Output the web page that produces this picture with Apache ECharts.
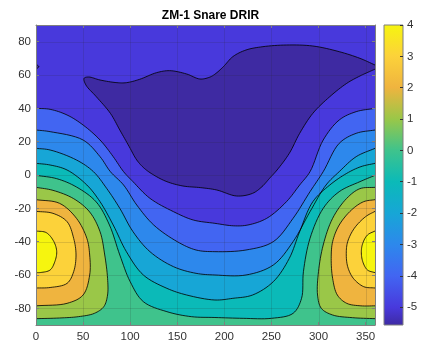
<!DOCTYPE html>
<html>
<head>
<meta charset="utf-8">
<script src="https://cdn.jsdelivr.net/npm/echarts@6/dist/echarts.min.js"></script>
<style>
  html, body { margin: 0; padding: 0; background: #ffffff; }
  #chart { width: 428px; height: 344px; }
</style>
</head>
<body>
<div id="chart"></div>
<script>
// ---- values -------------------------------------------------------------
const chartTitle = 'ZM-1 Snare DRIR';
const levels = [-5, -4, -3, -2, -1, 0, 1, 2, 3, 4];
const zMin = -5.57;
const zMax = 4;

const xTicks = [0, 50, 100, 150, 200, 250, 300, 350];
const yTicks = [-80, -60, -40, -20, 0, 20, 40, 60, 80];
const cbTicks = [-5, -4, -3, -2, -1, 0, 1, 2, 3, 4];

// contour lines as [azimuth, elevation] points
const contourM5 = [[360,66],[344,70],[322,74],[294,77.4],[266,78],[241,77],[223,75],[209,71],[199,65],[190,60.5],[184,58.6],[174,57.6],[160,60.6],[142,62.6],[128,61.4],[110,57.4],[96,55.4],[86,55.4],[68,57],[56,58.8],[51,58],[53,54],[64,47],[79,37],[89,27],[99,17],[107,9],[115,4],[125,0],[139,-4],[156,-6.6],[175,-7.6],[192,-9],[213,-12.6],[230,-11],[240,-7],[248,-2],[256,3],[269,13],[280,25],[294,37],[312,47],[330,55],[344,59.4],[354,62],[360,63.5]];
const contourM5Edge = [[0,66.5],[3,65],[0,63.5]];
const contourM4 = [[0,40],[15,39.4],[33,36],[50,30],[68,21],[82,11],[93,2],[103,-4],[121,-14],[146,-22],[167,-27],[190,-29],[210,-30.5],[225,-30],[245,-26],[266,-16],[280,-6],[291,2],[305,21],[322,33],[340,38],[360,40]];
const contourM3 = [[0,27],[15,26],[50,21],[68,11],[79,2],[93,-6],[107,-18],[125,-30],[150,-40],[170,-45],[190,-46],[223,-45],[252,-40],[273,-26],[291,-10],[305,2],[322,19],[340,25],[360,27]];
const contourM2 = [[0,16],[15,15],[43,9],[61,2],[75,-8],[89,-20],[103,-34],[121,-46],[146,-55],[170,-59],[190,-60],[223,-60],[252,-54],[273,-40],[291,-22],[308,-6],[322,2],[340,11],[360,16]];
const contourM1 = [[0,7],[15,6],[33,3],[54,-6],[68,-16],[82,-30],[96,-46],[114,-60],[139,-68],[160,-72],[190,-75],[209,-74],[230,-72],[252,-64],[269,-50],[280,-34],[294,-16],[312,-6],[330,1],[345,5],[360,7]];
const contour0 = [[0,-0.2],[22,-2.2],[43,-7.2],[64,-16.2],[78,-30],[89,-48],[100,-64],[114,-76],[139,-82],[165,-85],[190,-85.5],[220,-86],[250,-86],[273,-83],[282,-74],[284,-58],[291,-38],[305,-20],[322,-10],[344,-4],[360,-0.2]];
const contour1L = [[0,-7.4],[18,-9.2],[40,-14.2],[57,-22.2],[68,-34],[73,-48],[76,-62],[76,-72],[72,-79],[62,-83],[45,-85],[25,-85.8],[0,-86.2]];
const contour1R = [[360,-7.4],[344,-8.2],[330,-14],[315,-26],[305,-42],[300,-58],[299,-72],[303,-80],[315,-84],[336,-85.6],[360,-86.2]];
const contour2L = [[0,-14.8],[25,-17],[43,-26],[54,-38],[57,-48],[57,-60],[50,-72],[33,-77],[0,-78.5]];
const contour2R = [[360,-14.8],[348,-16],[335,-21],[322,-30],[315,-40],[313.5,-50],[315,-62],[320,-72],[330,-77],[345,-78.5],[360,-78.5]];
const contour3L = [[0,-21.8],[18,-23],[33,-28],[40,-38],[42.5,-48],[40,-58],[33,-65],[15,-67.5],[0,-67.8]];
const contour3R = [[360,-21.8],[350,-25],[338,-32],[331,-40],[329.5,-47],[331,-55],[337,-62],[348,-67],[360,-67.8]];
const contour4L = [[0,-33.6],[11,-34.6],[19,-40],[22,-46],[20,-52],[15,-57],[5,-58.5],[0,-58.6]];
const contour4R = [[360,-33.6],[352,-36],[347,-41],[345.5,-46],[347,-52],[352,-57],[360,-58.6]];

// ---- styles -------------------------------------------------------------
// colour of each band, keyed by the level at its lower edge ('low' = below -5)
const bandColor = {
  low: '#3e2aa2', '-5': '#4839dc', '-4': '#4265f2', '-3': '#2d88ec', '-2': '#17a6d6',
  '-1': '#0bbab8', '0': '#3fc38c', '1': '#9ac748', '2': '#efb43f', '3': '#fcd23a', '4': '#f6f50f'
};
const axisColor = '#7f7f7f';
const labelColor = '#333333';
const fontFamily = '"Liberation Sans", Arial, Helvetica, sans-serif';

// ---- helpers ------------------------------------------------------------
// centripetal Catmull-Rom through pixel points
function smoothPath(pts, seg) {
  const n = pts.length;
  if (n < 3) return pts.slice();
  const P = [[2 * pts[0][0] - pts[1][0], 2 * pts[0][1] - pts[1][1]]]
    .concat(pts, [[2 * pts[n - 1][0] - pts[n - 2][0], 2 * pts[n - 1][1] - pts[n - 2][1]]]);
  const dist = (a, b) => Math.max(Math.sqrt(Math.hypot(b[0] - a[0], b[1] - a[1])), 1e-4);
  const out = [];
  for (let i = 1; i < n; i++) {
    const p0 = P[i - 1], p1 = P[i], p2 = P[i + 1], p3 = P[i + 2];
    const t0 = 0, t1 = t0 + dist(p0, p1), t2 = t1 + dist(p1, p2), t3 = t2 + dist(p2, p3);
    for (let s = 0; s < seg; s++) {
      const t = t1 + (t2 - t1) * s / seg;
      const lerp = (a, b, ta, tb) => [
        ((tb - t) * a[0] + (t - ta) * b[0]) / (tb - ta),
        ((tb - t) * a[1] + (t - ta) * b[1]) / (tb - ta)
      ];
      const A1 = lerp(p0, p1, t0, t1), A2 = lerp(p1, p2, t1, t2), A3 = lerp(p2, p3, t2, t3);
      const B1 = lerp(A1, A2, t0, t2), B2 = lerp(A2, A3, t1, t3);
      out.push(lerp(B1, B2, t1, t2));
    }
  }
  out.push(pts[n - 1]);
  return out;
}

// filled regions, painted from the lowest level upwards
const regions = [
  { pts: contourM5, color: bandColor.low, close: 'self' },
  { pts: contourM5Edge, color: bandColor.low, close: 'self' },
  { pts: contourM4, color: bandColor['-4'], close: 'bottom' },
  { pts: contourM3, color: bandColor['-3'], close: 'bottom' },
  { pts: contourM2, color: bandColor['-2'], close: 'bottom' },
  { pts: contourM1, color: bandColor['-1'], close: 'bottom' },
  { pts: contour0, color: bandColor['0'], close: 'bottom' },
  { pts: contour1L, color: bandColor['1'], close: 'self' },
  { pts: contour1R, color: bandColor['1'], close: 'self' },
  { pts: contour2L, color: bandColor['2'], close: 'self' },
  { pts: contour2R, color: bandColor['2'], close: 'self' },
  { pts: contour3L, color: bandColor['3'], close: 'self' },
  { pts: contour3R, color: bandColor['3'], close: 'self' },
  { pts: contour4L, color: bandColor['4'], close: 'self' },
  { pts: contour4R, color: bandColor['4'], close: 'self' }
];

const series = [];
regions.forEach(function (r) {
  series.push({
    type: 'custom', xAxisIndex: 0, yAxisIndex: 0, clip: true, silent: true, z: 2,
    data: r.pts,
    renderItem: function (params, api) {
      if (params.dataIndex !== 0) return null;
      let path = smoothPath(r.pts.map(p => api.coord(p)), 8);
      if (r.close === 'bottom') path = path.concat([api.coord([360, -90]), api.coord([0, -90])]);
      return { type: 'polygon', shape: { points: path }, style: { fill: r.color } };
    }
  });
});
regions.forEach(function (r) {
  series.push({
    type: 'custom', xAxisIndex: 0, yAxisIndex: 0, clip: true, silent: true, z: 3,
    data: r.pts,
    renderItem: function (params, api) {
      if (params.dataIndex !== 0) return null;
      const path = smoothPath(r.pts.map(p => api.coord(p)), 8);
      return { type: 'polyline', shape: { points: path }, style: { stroke: '#000000', lineWidth: 0.8, fill: null } };
    }
  });
});

// grid lines over the filled contours
series.push({
  type: 'custom', xAxisIndex: 0, yAxisIndex: 0, silent: true, z: 4,
  data: xTicks.map(v => [v, 0]),
  renderItem: function (params, api) {
    const a = api.coord([api.value(0), -90]), b = api.coord([api.value(0), 90]);
    return { type: 'line', shape: { x1: Math.round(a[0]) + 0.5, y1: a[1], x2: Math.round(a[0]) + 0.5, y2: b[1] },
      style: { stroke: 'rgba(38,38,38,0.15)', lineWidth: 1 } };
  }
});
series.push({
  type: 'custom', xAxisIndex: 0, yAxisIndex: 0, silent: true, z: 4,
  data: yTicks.map(v => [0, v]),
  renderItem: function (params, api) {
    const a = api.coord([0, api.value(1)]), b = api.coord([360, api.value(1)]);
    return { type: 'line', shape: { x1: a[0], y1: Math.round(a[1]) + 0.5, x2: b[0], y2: Math.round(a[1]) + 0.5 },
      style: { stroke: 'rgba(38,38,38,0.15)', lineWidth: 1 } };
  }
});

// colour bar
const cbStopValues = [zMin].concat(levels);
const cbStopColors = [bandColor.low].concat(levels.map(l => bandColor[String(l)]));
series.push({
  type: 'custom', xAxisIndex: 2, yAxisIndex: 2, silent: true, z: 2,
  data: [[0, zMin], [1, zMax]],
  renderItem: function (params, api) {
    if (params.dataIndex !== 0) return null;
    const p0 = api.coord([0, zMin]), p1 = api.coord([1, zMax]);
    const stops = cbStopValues.map((v, i) => ({ offset: (v - zMin) / (zMax - zMin), color: cbStopColors[i] }));
    return {
      type: 'rect',
      shape: { x: p0[0], y: p1[1], width: p1[0] - p0[0], height: p0[1] - p1[1] },
      style: { fill: new echarts.graphic.LinearGradient(0, 1, 0, 0, stops), stroke: axisColor, lineWidth: 1 }
    };
  }
});

const tickLabel = { color: labelColor, fontSize: 11.5, fontFamily: fontFamily };
const boxLine = { show: true, onZero: false, lineStyle: { color: axisColor, width: 1 } };

const option = {
  animation: false,
  backgroundColor: '#ffffff',
  title: {
    text: chartTitle, left: 205.5, top: 5, textAlign: 'center',
    textStyle: { fontSize: 12, fontWeight: 'bold', color: '#000000', fontFamily: fontFamily }
  },
  grid: [
    { left: 36, top: 25, width: 339, height: 300, show: true, backgroundColor: bandColor['-5'], borderWidth: 0 },
    { left: 384, top: 25, width: 19, height: 300 }
  ],
  xAxis: [
    { gridIndex: 0, type: 'value', min: 0, max: 360, position: 'bottom', z: 5,
      axisLine: boxLine,
      axisTick: { show: true, inside: true, length: 3, customValues: xTicks, lineStyle: { color: axisColor } },
      axisLabel: Object.assign({ customValues: xTicks, margin: 6 }, tickLabel),
      splitLine: { show: false } },
    { gridIndex: 0, type: 'value', min: 0, max: 360, position: 'top', z: 5,
      axisLine: boxLine,
      axisTick: { show: true, inside: true, length: 3, customValues: xTicks, lineStyle: { color: axisColor } },
      axisLabel: { show: false }, splitLine: { show: false } },
    { gridIndex: 1, type: 'value', min: 0, max: 1, show: false }
  ],
  yAxis: [
    { gridIndex: 0, type: 'value', min: -90, max: 90, position: 'left', z: 5,
      axisLine: boxLine,
      axisTick: { show: true, inside: true, length: 3, customValues: yTicks, lineStyle: { color: axisColor } },
      axisLabel: Object.assign({ customValues: yTicks, margin: 5 }, tickLabel),
      splitLine: { show: false } },
    { gridIndex: 0, type: 'value', min: -90, max: 90, position: 'right', z: 5,
      axisLine: boxLine,
      axisTick: { show: true, inside: true, length: 3, customValues: yTicks, lineStyle: { color: axisColor } },
      axisLabel: { show: false }, splitLine: { show: false } },
    { gridIndex: 1, type: 'value', min: zMin, max: zMax, position: 'right', z: 5,
      axisLine: { show: false, onZero: false },
      axisTick: { show: true, inside: true, length: 3, customValues: cbTicks, lineStyle: { color: '#333333' } },
      axisLabel: Object.assign({ customValues: cbTicks, margin: 4 }, tickLabel),
      splitLine: { show: false } }
  ],
  series: series
};

const chart = echarts.init(document.getElementById('chart'), null, { renderer: 'canvas' });
chart.setOption(option);
</script>
</body>
</html>
